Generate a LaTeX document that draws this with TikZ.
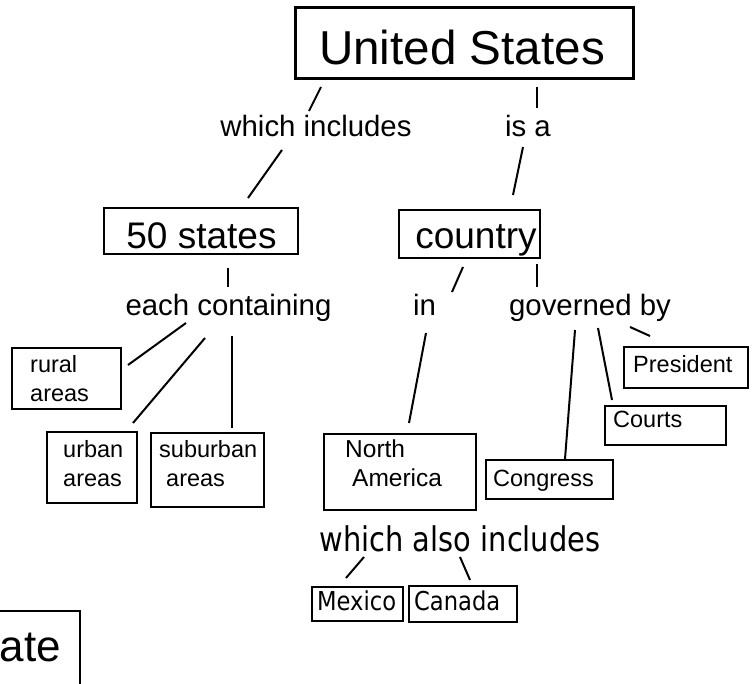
\documentclass[tikz,border=0pt]{standalone}
\usepackage{fontspec}
\setmainfont{Liberation Sans}
\newfontfamily\cond[FakeStretch=0.85]{DejaVu Sans}
\newfontfamily\condsm[FakeStretch=0.87]{DejaVu Sans}
\newcommand{\fsz}[1]{\fontsize{#1}{#1}\selectfont}
\begin{document}
\begin{tikzpicture}[x=1pt,y=-1pt,
  box/.style={draw, line width=2pt, inner sep=0pt},
  thickbox/.style={draw, line width=3pt, inner sep=0pt},
  conn/.style={line width=2pt},
  big/.style={inner sep=0pt, font=\fsz{47.6}},
  mid/.style={inner sep=0pt, font=\fsz{37}},
  lab/.style={inner sep=0pt, font=\fsz{29.4}},
  sm/.style={inner sep=0pt, anchor=base west, font=\fsz{23.5}},
  na/.style={inner sep=0pt, anchor=base west, font=\fsz{24.5}},
  cbig/.style={inner sep=0pt, font=\cond\fsz{34}},
  csm/.style={inner sep=0pt, anchor=base west, font=\condsm\fsz{26}}]
\useasboundingbox (0,0) rectangle (756,684);
% boxes
\node[thickbox, minimum width=338pt, minimum height=71pt] (us) at (464,43.5) {};
\node[box, minimum width=194pt, minimum height=46pt] (fifty) at (201,231) {};
\node[box, minimum width=141pt, minimum height=48pt] (country) at (469.5,234) {};
\node[box, minimum width=109pt, minimum height=61pt] (rural) at (66.5,378.5) {};
\node[box, minimum width=90pt, minimum height=71pt] (urban) at (92,467.5) {};
\node[box, minimum width=113pt, minimum height=74pt] (suburban) at (207.5,470) {};
\node[box, minimum width=152pt, minimum height=76pt] (na) at (400,472) {};
\node[box, minimum width=127pt, minimum height=39pt] (congress) at (549.5,479.5) {};
\node[box, minimum width=121pt, minimum height=39pt] (courts) at (665.5,425.5) {};
\node[box, minimum width=124pt, minimum height=41pt] (president) at (686,367.5) {};
\node[box, minimum width=91pt, minimum height=34pt] (mexico) at (357.5,604) {};
\node[box, minimum width=108pt, minimum height=36pt] (canada) at (463,604) {};
\node[box, minimum width=90pt, minimum height=80pt] (state) at (35,651) {};
% texts
\node[big, anchor=base] (tus) at (462,65) {United States};
\node[mid, anchor=base] (tfifty) at (201.5,249) {50 states};
\node[mid, anchor=base] (tcountry) at (476,249) {country};
\node[lab, anchor=base] (lwhich) at (316,137) {which includes};
\node[lab, anchor=base] (lisa) at (528,137) {is a};
\node[lab, anchor=base] (leach) at (228.5,316) {each containing};
\node[lab, anchor=base] (lin) at (424.5,316) {in};
\node[lab, anchor=base] (lgov) at (590,316) {governed by};
\node[sm] (trural1) at (30,373) {rural};
\node[sm] (trural2) at (30,402) {areas};
\node[sm] (turban1) at (63,458) {urban};
\node[sm] (turban2) at (63,487) {areas};
\node[sm] (tsub1) at (159,458) {suburban};
\node[sm] (tsub2) at (166,487) {areas};
\node[na] (tna1) at (345,458) {North};
\node[na] (tna2) at (352,487) {America};
\node[sm] (tcong) at (493,487) {Congress};
\node[sm] (tcourts) at (613,428) {Courts};
\node[sm] (tpres) at (633,373) {President};
\node[cbig, anchor=base] (lalso) at (460,552) {which also includes};
\node[csm] (tmex) at (317,611) {Mexico};
\node[csm] (tcan) at (414,611) {Canada};
\node[inner sep=0pt, anchor=base east, font=\fsz{44}] (tstate) at (61,662) {ate};
% connector end points
\coordinate (a1) at (321,87);   \coordinate (a2) at (309,111);
\coordinate (b1) at (282,150);  \coordinate (b2) at (248,198);
\coordinate (c1) at (537,87);   \coordinate (c2) at (537,108);
\coordinate (d1) at (523,147);  \coordinate (d2) at (513,195);
\coordinate (e1) at (228,268);  \coordinate (e2) at (228,287);
\coordinate (f1) at (463,267);  \coordinate (f2) at (452,292);
\coordinate (g1) at (537,264);  \coordinate (g2) at (537,287);
\coordinate (h1) at (186,323);  \coordinate (h2) at (128,365);
\coordinate (i1) at (205,338);  \coordinate (i2) at (133,423);
\coordinate (j1) at (232,336);  \coordinate (j2) at (232,428);
\coordinate (k1) at (426,333);  \coordinate (k2) at (409,423);
\coordinate (m1) at (575,330);  \coordinate (m2) at (565,459);
\coordinate (n1) at (598,328);  \coordinate (n2) at (612,400);
\coordinate (o1) at (630,327);  \coordinate (o2) at (650,336);
\coordinate (p1) at (364,557);  \coordinate (p2) at (346,578);
\coordinate (q1) at (460,557);  \coordinate (q2) at (470,580);
\foreach \s/\t in {a1/a2,b1/b2,c1/c2,d1/d2,e1/e2,f1/f2,g1/g2,h1/h2,i1/i2,j1/j2,k1/k2,m1/m2,n1/n2,o1/o2,p1/p2,q1/q2}
  \draw[conn] (\s) -- (\t);
\end{tikzpicture}
\end{document}
